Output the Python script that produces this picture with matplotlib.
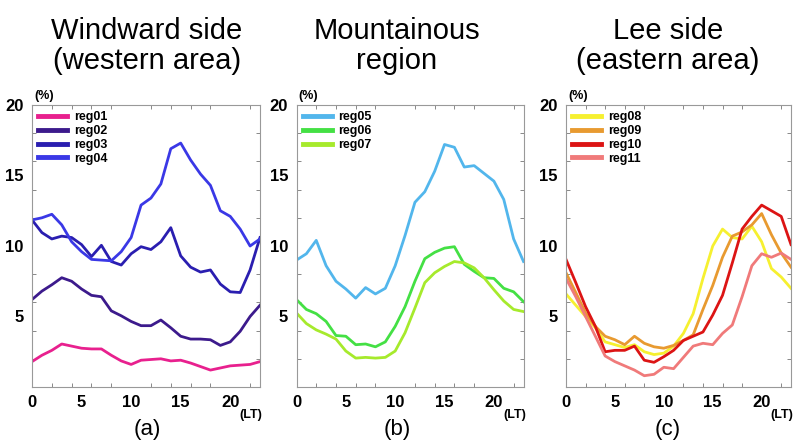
import matplotlib
matplotlib.use("Agg")
import matplotlib.pyplot as plt

# =========================
# DATA
# =========================

hours = list(range(24))

reg01 = [1.8, 2.25, 2.6, 3.05, 2.9, 2.75, 2.7, 2.7, 2.25, 1.85, 1.6, 1.9,
         1.95, 2.0, 1.85, 1.9, 1.7, 1.45, 1.2, 1.35, 1.5, 1.55, 1.6, 1.8]
reg02 = [6.2, 6.8, 7.25, 7.75, 7.5, 6.95, 6.5, 6.4, 5.4, 5.05, 4.65, 4.35,
         4.35, 4.75, 4.2, 3.6, 3.4, 3.4, 3.35, 2.95, 3.2, 3.95, 5.0, 5.8]
reg03 = [11.85, 10.95, 10.5, 10.7, 10.6, 10.1, 9.25, 10.05, 8.9, 8.65, 9.45, 9.95,
         9.75, 10.3, 11.3, 9.3, 8.5, 8.15, 8.3, 7.3, 6.75, 6.7, 8.3, 10.6]
reg04 = [11.85, 12.0, 12.25, 11.5, 10.3, 9.6, 9.05, 9.0, 8.95, 9.6, 10.6, 12.9,
         13.4, 14.4, 16.9, 17.3, 16.1, 15.1, 14.3, 12.5, 12.1, 11.2, 10.0, 10.5]

reg05 = [9.0, 9.45, 10.4, 8.6, 7.5, 6.95, 6.3, 7.05, 6.6, 7.0, 8.6, 10.75,
         13.1, 13.85, 15.3, 17.2, 17.0, 15.6, 15.7, 15.15, 14.6, 13.3, 10.5, 8.9]
reg06 = [6.2, 5.5, 5.2, 4.65, 3.65, 3.6, 3.0, 3.05, 2.85, 3.2, 4.3, 5.7,
         7.5, 9.1, 9.55, 9.85, 9.95, 8.7, 8.2, 7.75, 7.7, 7.0, 6.75, 6.05]
reg07 = [5.25, 4.5, 4.05, 3.75, 3.4, 2.55, 2.05, 2.1, 2.05, 2.1, 2.55, 3.85,
         5.6, 7.4, 8.1, 8.55, 8.9, 8.8, 8.45, 7.75, 6.9, 6.1, 5.5, 5.35]

reg08 = [6.6, 5.8, 5.0, 4.2, 3.2, 3.0, 2.8, 3.0, 2.5, 2.3, 2.4, 2.9,
         3.8, 5.2, 7.7, 10.0, 11.2, 10.6, 10.5, 11.4, 10.3, 8.4, 7.8, 7.0]
reg09 = [8.1, 6.7, 5.25, 4.3, 3.6, 3.35, 3.0, 3.6, 3.1, 2.85, 2.75, 2.95,
         3.3, 3.7, 5.5, 7.2, 9.2, 10.7, 11.0, 11.5, 12.3, 10.8, 9.5, 8.5]
reg10 = [9.05, 7.4, 5.7, 4.3, 2.5, 2.6, 2.6, 2.9, 1.9, 1.75, 2.15, 2.6,
         3.3, 3.6, 3.9, 5.1, 6.5, 8.8, 11.2, 12.1, 12.9, 12.5, 12.1, 10.1]
reg11 = [7.7, 6.4, 5.0, 3.6, 2.2, 1.8, 1.5, 1.2, 0.8, 0.9, 1.4, 1.3,
         2.1, 2.9, 3.1, 3.0, 3.8, 4.4, 6.4, 8.6, 9.45, 9.2, 9.5, 9.05]

panels = [
    {
        "title": "Windward side\n(western area)",
        "tag": "(a)",
        "series": [("reg01", reg01, "#e8208e"),
                   ("reg02", reg02, "#3c1a8c"),
                   ("reg03", reg03, "#2a1eb0"),
                   ("reg04", reg04, "#3a38e6")],
    },
    {
        "title": "Mountainous\nregion",
        "tag": "(b)",
        "series": [("reg05", reg05, "#52b6ec"),
                   ("reg06", reg06, "#44e044"),
                   ("reg07", reg07, "#a6ea2c")],
    },
    {
        "title": "Lee side\n(eastern area)",
        "tag": "(c)",
        "series": [("reg08", reg08, "#f6f030"),
                   ("reg09", reg09, "#e89a30"),
                   ("reg10", reg10, "#dc1414"),
                   ("reg11", reg11, "#f07a7a")],
    },
]

# =========================
# STYLE
# =========================

plt.rcParams["font.family"] = ["Liberation Sans", "DejaVu Sans"]

fig = plt.figure(figsize=(8.01, 4.41), dpi=100)

# axes boxes in pixels: left, width
boxes = [(32, 228), (296.5, 227), (566, 225)]
title_x = [147, 397, 668]

for p, (left, width), tx in zip(panels, boxes, title_x):

    ax = fig.add_axes([left / 801, 1 - 387 / 441, width / 801, 282 / 441])

    for name, vals, col in p["series"]:
        ax.plot(hours, vals, color=col, linewidth=2, label=name)

    ax.set_xlim(0, 23)
    ax.set_ylim(0, 20)

    # labelled ticks (no marks) + small inward tick marks every 2
    ax.set_xticks([0, 5, 10, 15, 20])
    ax.set_yticks([5, 10, 15, 20])
    ax.set_xticks(range(0, 23, 2), minor=True)
    ax.set_yticks(range(0, 21, 2), minor=True)
    ax.tick_params(which="major", length=0, labelsize=12, pad=6)
    ax.tick_params(which="minor", direction="in", length=3, width=0.7,
                   color="#888888", top=True, right=True)
    for lab in ax.get_xticklabels() + ax.get_yticklabels():
        lab.set_fontweight("bold")

    for s in ax.spines.values():
        s.set_color("#999999")
        s.set_linewidth(0.8)

    leg = ax.legend(loc="upper left", frameon=False,
                    prop={"weight": "bold", "size": 9},
                    handlelength=2.3, handletextpad=0.55,
                    labelspacing=0.15, borderaxespad=0.4, borderpad=0.1)
    for l in leg.get_lines():
        l.set_linewidth(3.5)

    ax.text(0.01, 1.01, "(%)", transform=ax.transAxes, ha="left",
            va="bottom", fontsize=9, fontweight="bold")
    ax.text(1.01, -0.1, "(LT)", transform=ax.transAxes, ha="right",
            va="center", fontsize=9, fontweight="bold")

    fig.text(tx / 801, 1 - 429 / 441, p["tag"], ha="center", va="center",
             fontsize=16)
    fig.text(tx / 801, 1 - 46 / 441, p["title"], ha="center", va="center",
             fontsize=21, linespacing=1.05)

fig.savefig("out.png", dpi=100)
